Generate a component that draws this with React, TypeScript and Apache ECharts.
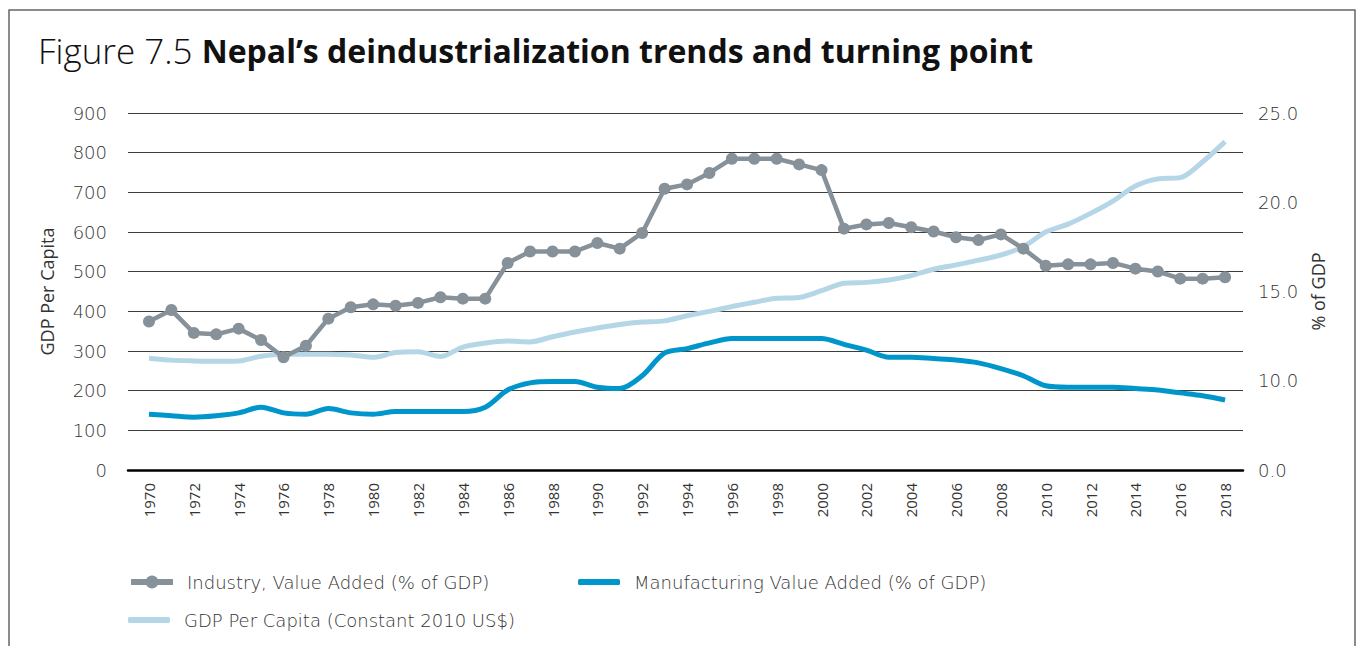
import React, { useEffect, useRef } from 'react';
import * as echarts from 'echarts';

const years = [
  1970, 1971, 1972, 1973, 1974, 1975, 1976, 1977, 1978, 1979,
  1980, 1981, 1982, 1983, 1984, 1985, 1986, 1987, 1988, 1989,
  1990, 1991, 1992, 1993, 1994, 1995, 1996, 1997, 1998, 1999,
  2000, 2001, 2002, 2003, 2004, 2005, 2006, 2007, 2008, 2009,
  2010, 2011, 2012, 2013, 2014, 2015, 2016, 2017, 2018,
];

// Industry, value added (% of GDP) — right axis
const industry = [
  10.4, 11.2, 9.6, 9.5, 9.9, 9.1, 7.9, 8.7, 10.6, 11.4,
  11.6, 11.5, 11.7, 12.1, 12.0, 12.0, 14.5, 15.3, 15.3, 15.3,
  15.9, 15.5, 16.6, 19.7, 20.0, 20.8, 21.8, 21.8, 21.8, 21.4,
  21.0, 16.9, 17.2, 17.3, 17.0, 16.7, 16.3, 16.1, 16.5, 15.5,
  14.3, 14.4, 14.4, 14.5, 14.1, 13.9, 13.4, 13.4, 13.5,
];

// Manufacturing value added (% of GDP) — right axis
const manufacturing = [
  3.9, 3.8, 3.7, 3.8, 4.0, 4.4, 4.0, 3.9, 4.3, 4.0,
  3.9, 4.1, 4.1, 4.1, 4.1, 4.4, 5.6, 6.1, 6.2, 6.2,
  5.8, 5.7, 6.6, 8.2, 8.5, 8.9, 9.2, 9.2, 9.2, 9.2,
  9.2, 8.8, 8.4, 7.9, 7.9, 7.8, 7.7, 7.5, 7.1, 6.6,
  5.9, 5.8, 5.8, 5.8, 5.7, 5.6, 5.4, 5.2, 4.9,
];

// GDP per capita (constant 2010 US$) — left axis
const gdpPerCapita = [
  282, 277, 275, 274, 275, 287, 292, 292, 292, 290,
  284, 296, 298, 286, 310, 320, 325, 323, 336, 348,
  358, 367, 373, 376, 389, 400, 412, 423, 433, 435,
  452, 471, 473, 479, 490, 506, 517, 529, 542, 563,
  600, 620, 647, 678, 716, 734, 737, 777, 828,
];

const xTickYears = [
  1970, 1972, 1974, 1976, 1978, 1980, 1982, 1984, 1986, 1988, 1990, 1992,
  1994, 1996, 1998, 2000, 2002, 2004, 2006, 2008, 2010, 2012, 2014, 2016, 2018,
];
const rightTickLabels = ['0.0', '10.0', '15.0', '20.0', '25.0'];

const NAME_IND = 'Industry, Value Added (% of GDP)';
const NAME_MAN = 'Manufacturing Value Added (% of GDP)';
const NAME_GDP = 'GDP Per Capita (Constant 2010 US$)';

const FONT = "'Open Sans', 'DejaVu Sans', sans-serif";
const WIDE = "'DejaVu Sans', 'Open Sans', sans-serif";
const TXT = '#333333';
const C_IND = '#86919A';
const C_MAN = '#0096CC';
const C_GDP = '#B5D6E6';

export default function App() {
  const ref = useRef<HTMLDivElement>(null);

  useEffect(() => {
    if (!ref.current) return;
    const chart = echarts.init(ref.current, undefined, { renderer: 'svg' });

    const pair = (arr: number[]) => years.map((y, i) => [y, arr[i]]);

    const legendText = {
      fontFamily: WIDE,
      fontWeight: 300,
      fontSize: 18,
      color: TXT,
      padding: [0, 0, 0, 9],
    };

    chart.setOption({
      animation: false,
      backgroundColor: '#ffffff',
      textStyle: { fontFamily: FONT },
      title: {
        left: 33,
        top: 28,
        text: '{a|Figure 7.5 }{b|Nepal’s deindustrialization trends and turning point}',
        textStyle: {
          rich: {
            a: { fontFamily: FONT, fontSize: 35, fontWeight: 300, color: '#111' },
            b: { fontFamily: FONT, fontSize: 32, fontWeight: 'bold', color: '#111' },
          },
        },
      },
      graphic: [
        {
          type: 'rect',
          shape: { x: 9, y: 10, width: 1346, height: 700 },
          style: { fill: 'none', stroke: '#666', lineWidth: 1.5 },
          silent: true,
        },
      ],
      legend: [
        {
          left: 123,
          top: 568,
          itemWidth: 42,
          itemHeight: 16,
          lineStyle: { width: 6 },
          textStyle: legendText,
          data: [NAME_IND],
        },
        {
          left: 573,
          top: 568,
          itemWidth: 42,
          itemHeight: 6,
          textStyle: legendText,
          data: [{ name: NAME_MAN, icon: 'roundRect' }],
        },
        {
          left: 123,
          top: 606,
          itemWidth: 42,
          itemHeight: 6,
          textStyle: legendText,
          data: [{ name: NAME_GDP, icon: 'roundRect' }],
        },
      ],
      grid: { left: 128, width: 1115, top: 113, height: 357 },
      xAxis: {
        type: 'value',
        min: 1969.064,
        max: 2018.8,
        splitLine: { show: false },
        axisTick: { show: false },
        axisLine: { show: true, lineStyle: { color: '#000', width: 2.5 } },
        axisLabel: {
          customValues: xTickYears,
          rotate: 90,
          margin: 13,
          fontSize: 15,
          color: TXT,
          fontFamily: FONT,
          formatter: (v: number) => String(v),
        },
      },
      yAxis: [
        {
          type: 'value',
          min: 0,
          max: 900,
          interval: 100,
          name: 'GDP Per Capita',
          nameLocation: 'middle',
          nameRotate: 90,
          nameGap: 72,
          nameTextStyle: { fontFamily: FONT, fontSize: 18, color: TXT },
          axisLine: { show: false },
          axisTick: { show: false },
          axisLabel: { margin: 21, fontSize: 18, color: TXT, fontFamily: WIDE, fontWeight: 300 },
          splitLine: { lineStyle: { color: '#3d3d3d', width: 1 } },
        },
        {
          type: 'value',
          min: 0,
          max: 25,
          interval: 6.25,
          position: 'right',
          name: '% of GDP',
          nameLocation: 'middle',
          nameRotate: 90,
          nameGap: 64,
          nameTextStyle: { fontFamily: FONT, fontSize: 18, color: TXT },
          axisLine: { show: false },
          axisTick: { show: false },
          splitLine: { show: false },
          axisLabel: {
            margin: 15,
            fontSize: 18,
            color: TXT,
            fontFamily: WIDE,
            fontWeight: 300,
            formatter: (v: number) => rightTickLabels[Math.round(v / 6.25)] ?? '',
          },
        },
      ],
      series: [
        {
          name: NAME_GDP,
          type: 'line',
          yAxisIndex: 0,
          data: pair(gdpPerCapita),
          smooth: 0.3,
          showSymbol: false,
          symbol: 'none',
          lineStyle: { color: C_GDP, width: 5 },
          itemStyle: { color: C_GDP },
          z: 2,
        },
        {
          name: NAME_MAN,
          type: 'line',
          yAxisIndex: 1,
          data: pair(manufacturing),
          smooth: 0.3,
          showSymbol: false,
          symbol: 'none',
          lineStyle: { color: C_MAN, width: 5 },
          itemStyle: { color: C_MAN },
          z: 3,
        },
        {
          name: NAME_IND,
          type: 'line',
          yAxisIndex: 1,
          data: pair(industry),
          symbol: 'circle',
          symbolSize: 12,
          lineStyle: { color: C_IND, width: 4.5 },
          itemStyle: { color: C_IND },
          z: 4,
        },
      ],
    });

    return () => chart.dispose();
  }, []);

  return (
    <div
      ref={ref}
      style={{ position: 'absolute', left: 0, top: 0, width: 1358, height: 646 }}
    />
  );
}
